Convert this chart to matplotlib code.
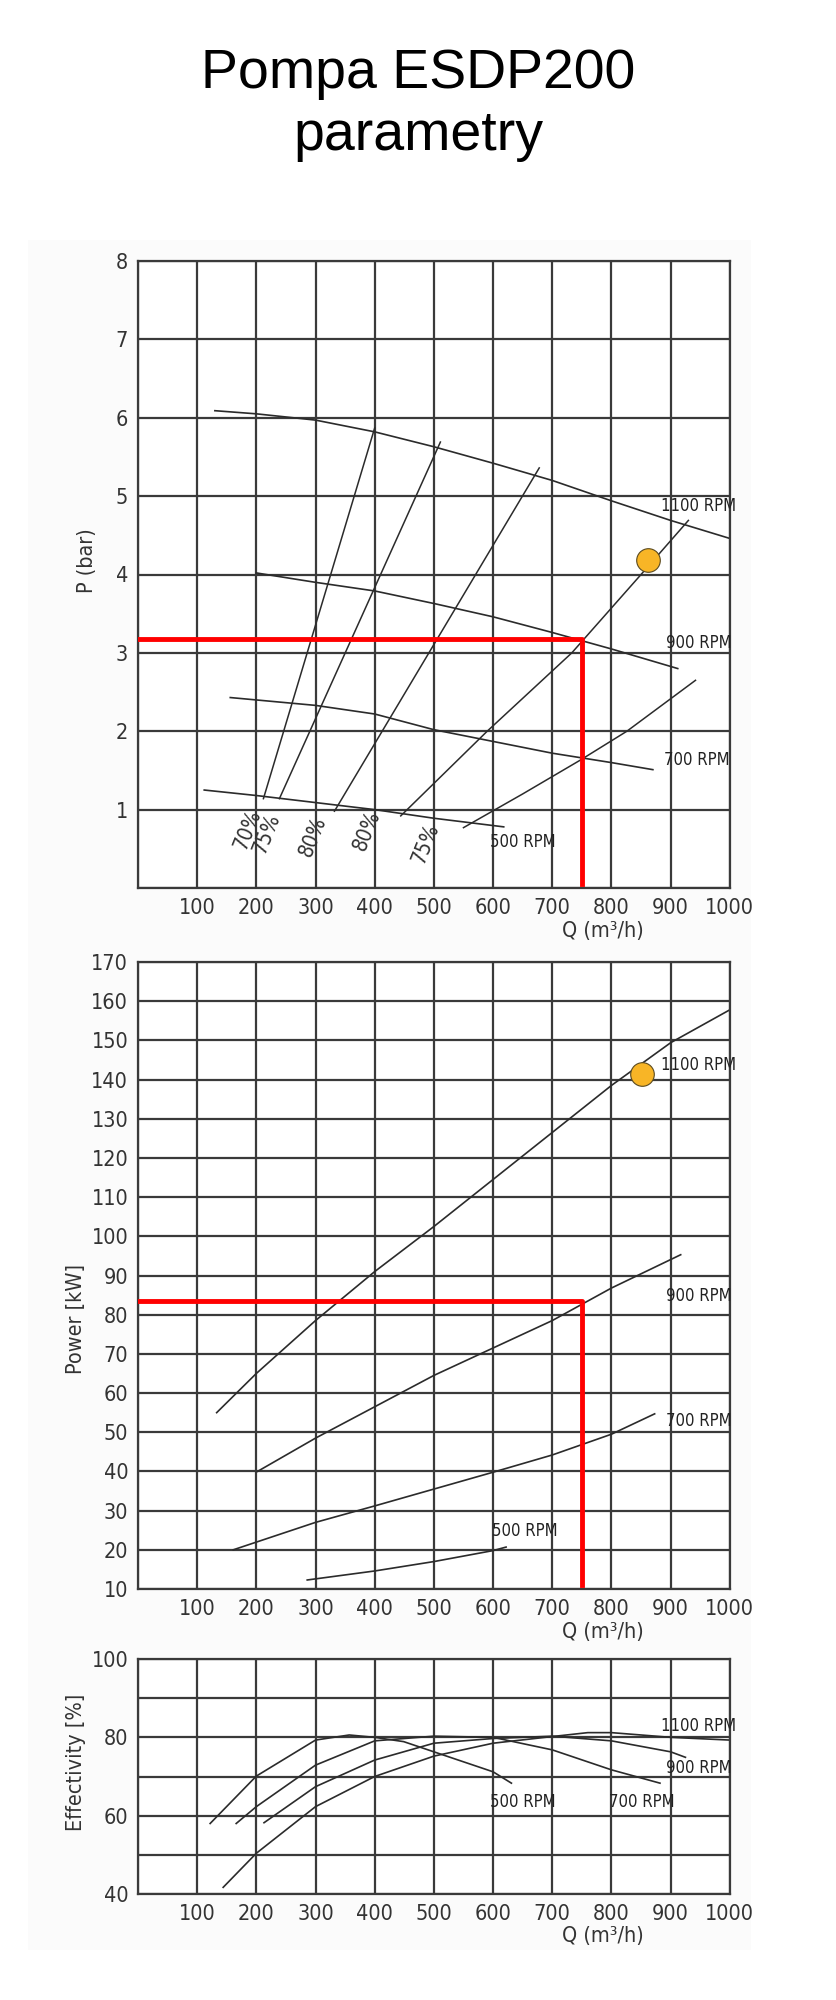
import matplotlib.pyplot as plt
import matplotlib.patches as mpatches

plt.rcParams['font.family'] = ['DejaVu Sans']
plt.rcParams['font.stretch'] = 'condensed'

# --- pressure chart: Q (m3/h) vs P (bar) for each speed ---
q_1100 = [130, 200, 300, 400, 500, 600, 700, 800, 900, 1000]
p_1100 = [6.09, 6.05, 5.97, 5.82, 5.63, 5.42, 5.2, 4.94, 4.69, 4.46]
q_900 = [200, 300, 400, 500, 600, 700, 800, 912]
p_900 = [4.02, 3.9, 3.79, 3.63, 3.46, 3.26, 3.05, 2.8]
q_700 = [156, 300, 400, 500, 600, 700, 800, 870]
p_700 = [2.43, 2.33, 2.22, 2.02, 1.87, 1.72, 1.6, 1.51]
q_500 = [112, 200, 300, 400, 500, 618]
p_500 = [1.25, 1.18, 1.09, 1.0, 0.89, 0.78]

# iso-efficiency lines
eff_lines = {
    '70a': ([212, 400], [1.14, 5.87]),
    '75a': ([239, 511], [1.14, 5.69]),
    '80a': ([332, 678], [0.98, 5.36]),
    '80b': ([444, 590, 733, 850, 930], [0.92, 2.0, 3.0, 4.0, 4.69]),
    '75b': ([550, 650, 747, 826, 942], [0.77, 1.2, 1.63, 2.0, 2.65]),
}
eff_labels = ['70%', '75%', '80%', '80%', '75%']
eff_label_q = [185, 217, 296, 387, 487]
eff_label_p = [0.74, 0.70, 0.66, 0.73, 0.57]

# --- power chart: Q vs kW ---
pq_1100 = [133, 200, 300, 400, 500, 600, 700, 800, 900, 1000]
pw_1100 = [55, 65, 78.5, 91, 102.5, 114.5, 126.5, 138.5, 149.4, 157.8]
pq_900 = [202, 300, 400, 500, 600, 700, 800, 917]
pw_900 = [40, 48.5, 56.5, 64.5, 71.5, 78.5, 86.8, 95.3]
pq_700 = [161, 300, 400, 500, 600, 700, 800, 873]
pw_700 = [20, 27, 31.2, 35.5, 39.8, 44.2, 49.5, 54.7]
pq_500 = [286, 400, 500, 600, 622]
pw_500 = [12.3, 14.6, 17, 19.8, 20.7]

# --- efficiency chart: Q vs % ---
eq_500 = [122, 200, 300, 357, 400, 449, 500, 600, 631]
ef_500 = [58.0, 70.1, 79.3, 80.6, 80.0, 78.9, 76.3, 71.2, 68.3]
eq_700 = [166, 200, 300, 400, 500, 600, 700, 800, 882]
ef_700 = [58.0, 62.3, 72.9, 79.1, 80.3, 80.0, 76.8, 71.7, 68.3]
eq_900 = [213, 300, 400, 500, 600, 700, 800, 900, 925]
ef_900 = [58.2, 67.4, 74.2, 78.5, 79.7, 80.3, 79.1, 76.3, 74.9]
eq_1100 = [144, 200, 300, 400, 500, 600, 700, 760, 800, 900, 1000]
ef_1100 = [41.7, 50.4, 62.3, 70.0, 75.2, 78.5, 80.2, 81.2, 81.2, 80.0, 79.3]

# operating point and red guide lines
op_q_p, op_p = 862, 4.19
op_q_w, op_w = 852, 141.4
guide_q = 750
guide_p = 3.18
guide_w = 83.6

q_ticks = list(range(0, 1001, 100))
q_labels = [''] + [str(v) for v in q_ticks[1:]]

LINE = '#2b2b2b'
GRID = '#3a3a3a'
RED = '#ff0000'
DOT = '#f8b526'
TXT = '#333333'

fig = plt.figure(figsize=(8.36, 20), dpi=100)
fig.patches.append(mpatches.Rectangle((0.033, 0.025), 0.865, 0.855, transform=fig.transFigure,
                                      facecolor='#fbfbfb', edgecolor='none', zorder=-1))
fig.text(0.5, 0.963, 'Pompa ESDP200', ha='center', va='center', fontsize=40,
         family='Liberation Sans', stretch='normal')
fig.text(0.5, 0.932, 'parametry', ha='center', va='center', fontsize=40,
         family='Liberation Sans', stretch='normal')


def style_axes(ax, ylim, yticks, ylabels):
    ax.set_xlim(0, 1000)
    ax.set_ylim(*ylim)
    ax.set_xticks(q_ticks, q_labels)
    ax.set_yticks(yticks, ylabels)
    ax.grid(True, color=GRID, linewidth=1.6)
    ax.set_axisbelow(True)
    ax.tick_params(length=0, labelsize=15.5, labelcolor=TXT, pad=7)
    for s in ax.spines.values():
        s.set_color(GRID)
        s.set_linewidth(1.6)
    ax.set_facecolor('white')


def rpm(ax, x, y, s):
    ax.text(x, y, s, ha='center', va='center', fontsize=12, color='#222222')


# pressure
ax1 = fig.add_axes([0.165, 0.556, 0.708, 0.3135])
style_axes(ax1, (0, 8), list(range(0, 9)), [''] + [str(v) for v in range(1, 9)])
for q, p in [(q_1100, p_1100), (q_900, p_900), (q_700, p_700), (q_500, p_500)]:
    ax1.plot(q, p, color=LINE, lw=1.2)
for q, p in eff_lines.values():
    ax1.plot(q, p, color=LINE, lw=1.1)
for lab, q, p in zip(eff_labels, eff_label_q, eff_label_p):
    ax1.text(q, p, lab, rotation=68, ha='center', va='center', fontsize=15, color=TXT)
rpm(ax1, 948, 4.87, '1100 RPM')
rpm(ax1, 948, 3.13, '900 RPM')
rpm(ax1, 944, 1.63, '700 RPM')
rpm(ax1, 650, 0.59, '500 RPM')
ax1.plot([0, guide_q, guide_q], [guide_p, guide_p, 0.05], color=RED, lw=3.5, zorder=4)
ax1.plot([op_q_p], [op_p], 'o', ms=17, mfc=DOT, mec='#5a4a20', mew=0.8, zorder=5)
ax1.set_xlabel('Q (m³/h)', fontsize=15.5, color=TXT)
ax1.xaxis.set_label_coords(0.785, -0.052)
ax1.set_ylabel('P (bar)', fontsize=15.5, color=TXT)
ax1.yaxis.set_label_coords(-0.069, 0.522)

# power
ax2 = fig.add_axes([0.165, 0.2055, 0.708, 0.3135])
style_axes(ax2, (10, 170), list(range(10, 171, 10)), [str(v) for v in range(10, 171, 10)])
for q, p in [(pq_1100, pw_1100), (pq_900, pw_900), (pq_700, pw_700), (pq_500, pw_500)]:
    ax2.plot(q, p, color=LINE, lw=1.2)
rpm(ax2, 948, 143.7, '1100 RPM')
rpm(ax2, 948, 84.8, '900 RPM')
rpm(ax2, 948, 52.8, '700 RPM')
rpm(ax2, 653, 24.7, '500 RPM')
ax2.plot([0, guide_q, guide_q], [guide_w, guide_w, 11.1], color=RED, lw=3.5, zorder=4)
ax2.plot([op_q_w], [op_w], 'o', ms=17, mfc=DOT, mec='#5a4a20', mew=0.8, zorder=5)
ax2.set_xlabel('Q (m³/h)', fontsize=15.5, color=TXT)
ax2.xaxis.set_label_coords(0.785, -0.052)
ax2.set_ylabel('Power [kW]', fontsize=15.5, color=TXT)
ax2.yaxis.set_label_coords(-0.088, 0.43)

# efficiency
ax3 = fig.add_axes([0.165, 0.053, 0.708, 0.1175])
style_axes(ax3, (40, 100), list(range(40, 101, 10)),
           ['40', '', '60', '', '80', '', '100'])
for q, e in [(eq_500, ef_500), (eq_700, ef_700), (eq_900, ef_900), (eq_1100, ef_1100)]:
    ax3.plot(q, e, color=LINE, lw=1.2)
rpm(ax3, 948, 82.9, '1100 RPM')
rpm(ax3, 948, 72.1, '900 RPM')
rpm(ax3, 651, 63.6, '500 RPM')
rpm(ax3, 852, 63.4, '700 RPM')
ax3.set_xlabel('Q (m³/h)', fontsize=15.5, color=TXT)
ax3.xaxis.set_label_coords(0.785, -0.135)
ax3.set_ylabel('Effectivity [%]', fontsize=15.5, color=TXT)
ax3.yaxis.set_label_coords(-0.088, 0.56)

fig.savefig('out.png', dpi=100, facecolor='white')
